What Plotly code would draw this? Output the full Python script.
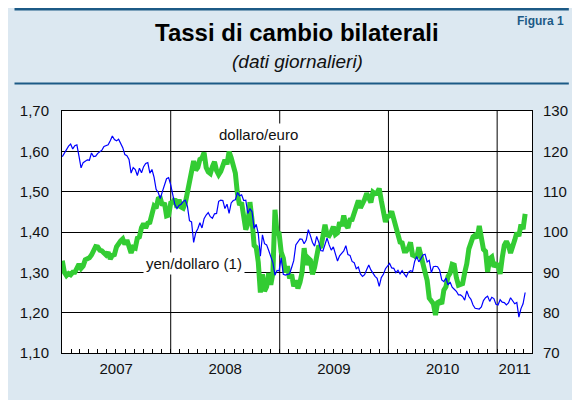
import pandas as pd
import plotly.graph_objects as go

# ---------------- data (weekly readings, Tuesdays from 2007-01-02) ----------------
dates = pd.date_range("2007-01-02", periods=223, freq="7D")

# dollaro/euro (left axis)
eur_usd_2007 = [1.329, 1.300, 1.292, 1.297, 1.294,
                1.300, 1.300, 1.314, 1.320,
                1.310, 1.316, 1.331, 1.334,
                1.336, 1.343, 1.356, 1.364,
                1.363, 1.355, 1.353, 1.346, 1.343,
                1.350, 1.333, 1.342, 1.344,
                1.363, 1.374, 1.378, 1.383, 1.369,
                1.380, 1.360, 1.348, 1.362,
                1.360, 1.385, 1.388, 1.411,
                1.421, 1.410, 1.422, 1.424, 1.445,
                1.464, 1.459, 1.482, 1.484,
                1.466, 1.472, 1.440, 1.442]
eur_usd_2008 = [1.472, 1.474, 1.482, 1.460, 1.480,
                1.462, 1.459, 1.472, 1.498,
                1.520, 1.540, 1.576, 1.553,
                1.560, 1.580, 1.583, 1.597, 1.560,
                1.549, 1.545, 1.562, 1.574,
                1.552, 1.542, 1.550, 1.562,
                1.579, 1.568, 1.599, 1.584, 1.567,
                1.546, 1.495, 1.467, 1.473,
                1.447, 1.406, 1.420, 1.474, 1.430,
                1.367, 1.362, 1.325, 1.250,
                1.295, 1.253, 1.264, 1.298,
                1.269, 1.297, 1.455, 1.397, 1.396]
eur_usd_2009 = [1.350, 1.335, 1.300, 1.315,
                1.285, 1.295, 1.265, 1.280,
                1.260, 1.275, 1.300, 1.360, 1.318,
                1.335, 1.330, 1.295, 1.312,
                1.336, 1.366, 1.361, 1.394,
                1.418, 1.393, 1.391, 1.400, 1.413,
                1.394, 1.398, 1.424, 1.415,
                1.441, 1.418, 1.410, 1.430,
                1.431, 1.448, 1.463, 1.478, 1.460,
                1.469, 1.481, 1.496, 1.483,
                1.473, 1.499, 1.495, 1.497,
                1.508, 1.478, 1.455, 1.425, 1.438]
eur_usd_2010 = [1.440, 1.451, 1.434, 1.411,
                1.397, 1.375, 1.373, 1.353,
                1.353, 1.360, 1.374, 1.343, 1.341,
                1.336, 1.362, 1.346, 1.321,
                1.300, 1.280, 1.236, 1.227,
                1.222, 1.194, 1.225, 1.228, 1.222,
                1.256, 1.264, 1.290, 1.298,
                1.320, 1.318, 1.287, 1.268, 1.270,
                1.272, 1.299, 1.321, 1.358,
                1.377, 1.388, 1.392, 1.385,
                1.415, 1.381, 1.357, 1.352, 1.301,
                1.334, 1.338, 1.314, 1.320]
eur_usd_2011 = [1.318, 1.296, 1.336, 1.367,
                1.377, 1.367, 1.348, 1.370,
                1.380, 1.398, 1.390, 1.419, 1.407,
                1.445]

# yen/dollaro (right axis)
usd_jpy_2007 = [118.7, 119.5, 120.6, 121.3, 121.8,
                120.6, 121.4, 121.6, 118.8,
                115.9, 117.2, 117.6, 117.9,
                117.8, 119.6, 118.7, 118.8,
                119.5, 120.0, 120.3, 121.2, 121.5,
                121.6, 122.6, 123.8, 122.9,
                122.6, 123.0, 121.9, 120.9, 119.2,
                118.9, 118.0, 114.6, 116.0,
                115.5, 114.0, 115.8, 114.7,
                116.2, 117.0, 117.2, 114.6, 115.5,
                113.6, 110.6, 109.8, 108.3,
                110.0, 111.8, 113.2, 113.5]
usd_jpy_2008 = [111.7, 109.2, 106.8, 105.8, 106.6,
                106.9, 107.6, 107.9, 106.4,
                102.8, 102.5, 97.4, 99.8,
                100.8, 102.3, 101.0, 103.3, 104.2,
                104.8, 103.8, 103.4, 104.5,
                104.6, 107.6, 107.9, 107.8,
                105.8, 106.9, 104.6, 107.2, 107.8,
                108.0, 109.8, 109.0, 109.2,
                107.8, 107.9, 104.6, 105.8, 105.0,
                100.9, 101.9, 99.6, 94.0,
                99.3, 97.1, 96.8, 95.4,
                93.6, 92.4, 89.3, 90.5, 90.4]
usd_jpy_2009 = [93.6, 89.5, 89.3, 89.5,
                89.6, 91.2, 92.9, 96.8,
                97.6, 98.3, 98.2, 97.1, 98.0,
                100.6, 99.1, 97.4, 96.5,
                98.9, 97.5, 95.4, 95.3,
                96.9, 98.5, 96.8, 95.5, 96.3,
                94.8, 92.8, 94.1, 94.6,
                95.3, 96.6, 94.4, 94.2,
                92.7, 92.4, 90.9, 91.3, 89.6,
                89.0, 89.4, 90.7, 91.8,
                90.6, 89.7, 89.0, 88.5,
                86.5, 88.7, 89.5, 90.9, 91.5]
usd_jpy_2010 = [92.2, 91.1, 91.0, 89.9,
                90.5, 89.6, 90.4, 89.6,
                88.9, 90.0, 90.4, 90.2, 92.7,
                93.9, 92.6, 93.4, 94.3,
                94.5, 92.6, 93.0, 89.9,
                91.4, 91.5, 91.4, 90.5, 88.1,
                87.7, 88.6, 86.9, 87.6,
                86.3, 85.8, 85.3, 84.4, 84.4,
                84.0, 83.1, 85.4, 84.0,
                83.3, 81.9, 81.1, 81.0,
                80.9, 81.4, 83.0, 83.7, 84.1,
                82.8, 83.8, 83.5, 82.1]
usd_jpy_2011 = [81.9, 83.2, 82.6, 82.5,
                81.9, 82.4, 83.7, 82.8,
                82.2, 82.5, 78.9, 81.0, 82.2,
                85.0]

eur_usd = eur_usd_2007 + eur_usd_2008 + eur_usd_2009 + eur_usd_2010 + eur_usd_2011
usd_jpy = usd_jpy_2007 + usd_jpy_2008 + usd_jpy_2009 + usd_jpy_2010 + usd_jpy_2011

year_labels = ["2007", "2008", "2009", "2010", "2011"]
year_label_pos = ["2007-07-02", "2008-07-02", "2009-07-02", "2010-07-02", "2011-03-01"]
year_starts = ["2008-01-01", "2009-01-01", "2010-01-01", "2011-01-01"]
month_ticks = pd.date_range("2007-02-01", "2011-04-01", freq="MS")

# ---------------- layout geometry (figure pixels) ----------------
W, H = 572, 392
L, R, T, B = 49, 38, 103, 47
PW, PH = W - L - R, H - T - B


def xp(px):
    return (px - L) / PW


def yp(py):
    return (H - B - py) / PH


DARK = "#1c5a86"
BAND = "#dce8f1"
FONT = "Liberation Sans, Arial, Helvetica, sans-serif"

fig = go.Figure()
fig.add_trace(go.Scatter(x=dates, y=eur_usd, mode="lines", name="dollaro/euro",
                         line=dict(color="#33cc33", width=5), yaxis="y"))
fig.add_trace(go.Scatter(x=dates, y=usd_jpy, mode="lines", name="yen/dollaro",
                         line=dict(color="#0000ff", width=1.2), yaxis="y2"))

shapes = [
    dict(type="rect", xref="paper", yref="paper", x0=xp(0), x1=xp(W), y0=yp(2.5), y1=yp(0),
         fillcolor=DARK, line=dict(width=0), layer="below"),
    dict(type="rect", xref="paper", yref="paper", x0=xp(0), x1=xp(W), y0=yp(76.5), y1=yp(74.5),
         fillcolor=DARK, line=dict(width=0), layer="below"),
    dict(type="rect", xref="paper", yref="paper", x0=0, x1=1, y0=0, y1=1,
         fillcolor="white", line=dict(width=0), layer="below"),
]
for ys in year_starts:
    shapes.append(dict(type="line", xref="x", yref="paper", x0=ys, x1=ys, y0=0, y1=1,
                       line=dict(color="black", width=1), layer="below"))

annotations = [
    dict(text="<b>Tassi di cambio bilaterali</b>", x=xp(292), y=yp(25), xref="paper", yref="paper",
         xanchor="center", yanchor="middle", showarrow=False, font=dict(size=24, color="black")),
    dict(text="<i>(dati giornalieri)</i>", x=xp(292), y=yp(54), xref="paper", yref="paper",
         xanchor="center", yanchor="middle", showarrow=False, font=dict(size=19, color="#111")),
    dict(text="<b>Figura 1</b>", x=xp(569), y=yp(4), xref="paper", yref="paper",
         xanchor="right", yanchor="top", showarrow=False, font=dict(size=12, color=DARK)),
    dict(text="dollaro/euro", x=xp(252), y=yp(126), xref="paper", yref="paper",
         xanchor="center", yanchor="middle", showarrow=False, bgcolor="white", borderpad=2,
         font=dict(size=15, color="#111")),
    dict(text="yen/dollaro (1)", x=xp(185), y=yp(255.5), xref="paper", yref="paper",
         xanchor="center", yanchor="middle", showarrow=False, bgcolor="white", borderpad=2,
         font=dict(size=15, color="#111")),
]

fig.update_layout(
    width=W, height=H,
    margin=dict(l=L, r=R, t=T, b=B, pad=0),
    paper_bgcolor=BAND, plot_bgcolor="white",
    font=dict(family=FONT, color="#111", size=15),
    separators=",.",
    showlegend=False,
    shapes=shapes,
    annotations=annotations,
    xaxis=dict(type="date", range=["2007-01-01", "2011-04-28"],
               tickmode="array", tickvals=year_label_pos, ticktext=year_labels,
               ticks="", showgrid=False, zeroline=False,
               showline=True, mirror=True, linecolor="black", linewidth=1,
               tickfont=dict(size=15), ticklabelstandoff=2,
               minor=dict(tickmode="array", tickvals=list(month_ticks), ticks="inside",
                          ticklen=4, tickcolor="black", tickwidth=1, showgrid=False)),
    yaxis=dict(range=[1.1, 1.7], tick0=1.1, dtick=0.1, tickformat=".2f",
               showgrid=True, gridcolor="black", gridwidth=1, zeroline=False,
               showline=True, mirror=True, linecolor="black", linewidth=1,
               ticks="", tickfont=dict(size=15), ticklabelstandoff=9),
    yaxis2=dict(range=[70, 130], tick0=70, dtick=10, overlaying="y", side="right",
                showgrid=False, zeroline=False, showline=False, ticks="",
                tickfont=dict(size=15), ticklabelstandoff=10),
)

fig.write_html("out.html")
